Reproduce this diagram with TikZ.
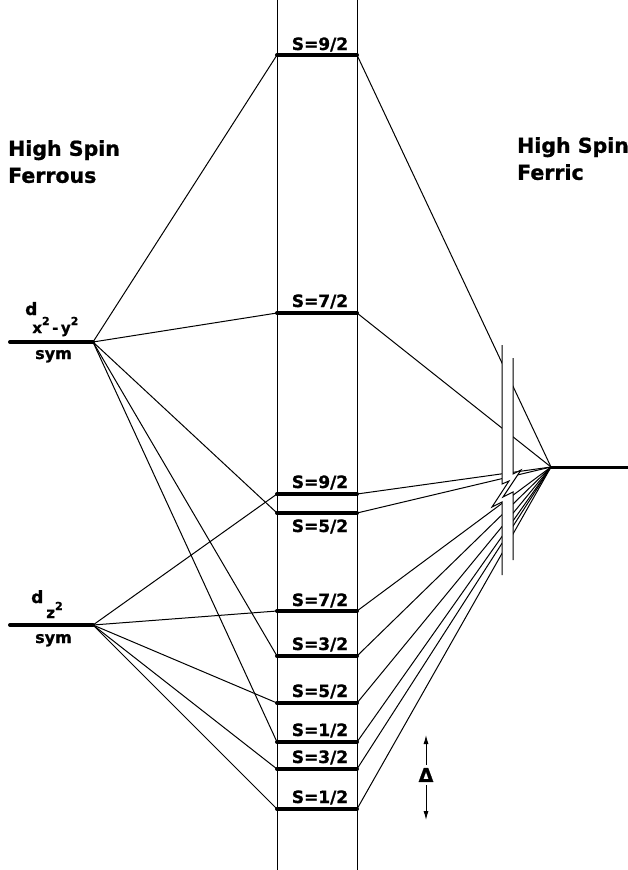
\documentclass[tikz,border=0pt]{standalone}
\usepackage{fontspec}
\setmainfont{DejaVu Sans}[BoldFeatures={FakeBold=1}]
\usepackage{tkz-euclide}
\usetikzlibrary{arrows,arrows.meta,calc}
\newcommand{\sqd}{\raisebox{8pt}{\fontsize{11}{11}\selectfont 2}}

\begin{document}
\begin{tikzpicture}[x=1pt,y=1pt,
  lvl/.style={anchor=base,inner sep=0pt,font=\fontsize{17}{17}\selectfont\bfseries},
  head/.style={anchor=north west,inner sep=0pt,align=left,font=\fontsize{20.5}{27}\selectfont\bfseries},
  orb/.style={anchor=base west,inner sep=0pt,font=\fontsize{17}{17}\selectfont\bfseries},
  gaparrow/.style={line width=1pt,-{Latex[length=9pt,width=5pt]}}]
\useasboundingbox (0,0) rectangle (628,-870);
\tkzSetUpLine[line width=1pt,color=black]

% column walls
\tkzDefPoints{277/0/cTa,277/-870/cBa,357/0/cTb,357/-870/cBb}
% ferrous orbitals and ferric level
\tkzDefPoints{10/-342/xW,93/-342/xE,10/-625/zW,93/-625/zE,551/-467/fW,628/-467/fE}
% spin ladder of d(x2-y2)
\tkzDefPoints{277/-55/x9L,357/-55/x9R,277/-313/x7L,357/-313/x7R,277/-513/x5L,357/-513/x5R,
  277/-656/x3L,357/-656/x3R,277/-742/x1L,357/-742/x1R}
% spin ladder of d(z2)
\tkzDefPoints{277/-494/z9L,357/-494/z9R,277/-611/z7L,357/-611/z7R,277/-703/z5L,357/-703/z5R,
  277/-769/z3L,357/-769/z3R,277/-809/z1L,357/-809/z1R}

\tkzDrawSegments[line width=1pt](cTa,cBa cTb,cBb)

\tkzDrawSegments(xE,x9L xE,x7L xE,x5L xE,x3L xE,x1L)
\tkzDrawSegments(zE,z9L zE,z7L zE,z5L zE,z3L zE,z1L)
\tkzDrawSegments(x9R,fW x7R,fW x5R,fW x3R,fW x1R,fW)
\tkzDrawSegments(z9R,fW z7R,fW z5R,fW z3R,fW z1R,fW)

\tkzDrawSegments[line width=4pt](xW,xE zW,zE)
\tkzDrawSegments[line width=3pt](fW,fE)
\tkzDrawSegments[line width=4pt](x9L,x9R x7L,x7R x5L,x5R x3L,x3R x1L,x1R)
\tkzDrawSegments[line width=4pt](z9L,z9R z7L,z7R z5L,z5R z3L,z3R z1L,z1R)

% break in the lines
\fill[white] (502,-345) -- (502,-484) -- (509,-481) -- (492,-507) -- (502,-502) -- (502,-575)
  -- (513,-575) -- (513,-492) -- (503,-497) -- (521,-470) -- (513,-474) -- (513,-358) -- cycle;
\draw[line width=1pt] (502,-345) -- (502,-484) -- (509,-481) -- (492,-507) -- (502,-502) -- (502,-575);
\draw[line width=1pt] (513,-358) -- (513,-474) -- (521,-470) -- (503,-497) -- (513,-492) -- (513,-560);

\node[head] (ferrous) at (8,-140) {High Spin\\Ferrous};
\node[head] (ferric) at (517,-137) {High Spin\\Ferric};

\node[orb] (dxlab) at (25,-315)
  {d\hspace{-5pt}\raisebox{-18pt}{\fontsize{15}{15}\selectfont x\sqd\,-\,y\sqd}};
\node[orb] (dzlab) at (31,-603)
  {d\hspace{3pt}\raisebox{-15pt}{\fontsize{15}{15}\selectfont z\sqd}};
\node[orb,font=\fontsize{16}{16}\selectfont\bfseries] (symx) at (35,-359) {sym};
\node[orb,font=\fontsize{16}{16}\selectfont\bfseries] (symz) at (35,-643) {sym};

\node[lvl] (lx9) at (320,-50) {S=9/2};
\node[lvl] (lx7) at (320,-307) {S=7/2};
\node[lvl] (lz9) at (320,-488) {S=9/2};
\node[lvl] (lx5) at (320,-532) {S=5/2};
\node[lvl] (lz7) at (320,-606) {S=7/2};
\node[lvl] (lx3) at (320,-650) {S=3/2};
\node[lvl] (lz5) at (320,-697) {S=5/2};
\node[lvl] (lx1) at (320,-736) {S=1/2};
\node[lvl] (lz3) at (320,-763) {S=3/2};
\node[lvl] (lz1) at (320,-803) {S=1/2};

\node[inner sep=3pt,font=\fontsize{19}{19}\selectfont\bfseries] (gap) at (426,-775) {Δ};
\coordinate (gapT) at (426,-735);
\coordinate (gapB) at (426,-820);
\draw[gaparrow] (gap.north) -- (gapT);
\draw[gaparrow] (gap.south) -- (gapB);

\end{tikzpicture}
\end{document}
